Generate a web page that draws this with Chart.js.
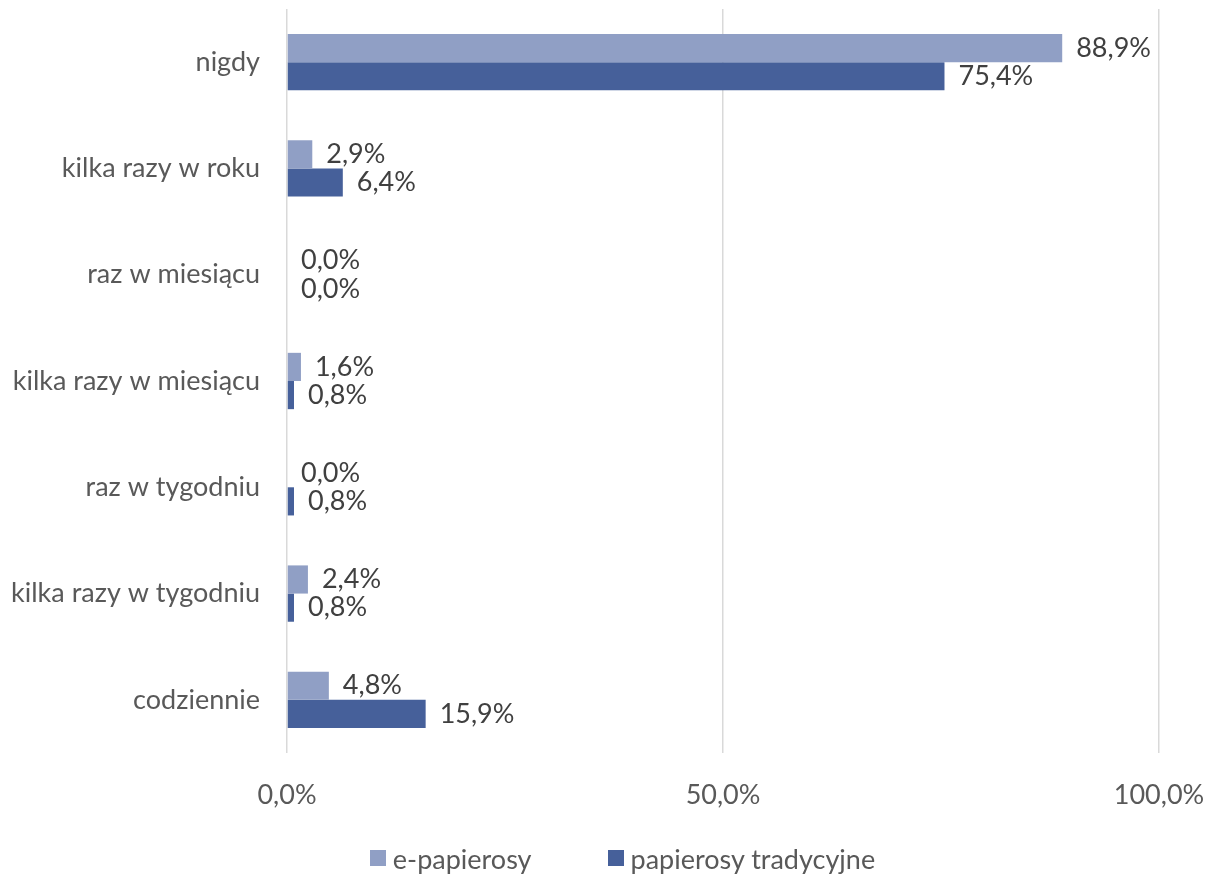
<!DOCTYPE html>
<html lang="pl">
<head>
<meta charset="utf-8">
<style>
  html, body { margin: 0; padding: 0; background: #fff; }
  #wrap { position: relative; width: 1215px; height: 875px; }
  #legend {
    position: absolute; left: 0; top: 840px; width: 1215px; height: 36px; box-sizing: border-box;
    padding-left: 30px;
    display: flex; justify-content: center; align-items: center; gap: 76px;
    font-family: Lato, "Open Sans", sans-serif; font-size: 27px; color: #595959;
  }
  #legend span.item { display: flex; align-items: center; }
  #legend span.box { display: inline-block; width: 16px; height: 16px; margin-right: 7px; }
</style>
</head>
<body>
<div id="wrap">
  <canvas id="myChart" width="1215" height="875"></canvas>
  <div id="legend"></div>
</div>
<script src="https://cdn.jsdelivr.net/npm/chart.js@4.4.0/dist/chart.umd.min.js"></script>
<script>
var categories = ['nigdy', 'kilka razy w roku', 'raz w miesiącu', 'kilka razy w miesiącu',
    'raz w tygodniu', 'kilka razy w tygodniu', 'codziennie'];
var ePapierosy = [88.9, 2.9, 0.0, 1.6, 0.0, 2.4, 4.8];
var tradycyjne = [75.4, 6.4, 0.0, 0.8, 0.8, 0.8, 15.9];
var xTicks = [0, 50, 100];

var FONT = 'Lato, "Open Sans", sans-serif';
var TEXT = '#595959';

function pct(v) {
    return v.toFixed(1).replace('.', ',') + '%';
}

// value labels at the end of each bar
var barLabels = {
    id: 'barLabels',
    afterDatasetsDraw: function (chart) {
        var ctx = chart.ctx;
        ctx.save();
        ctx.font = '27px ' + FONT;
        ctx.fillStyle = '#404040';
        ctx.textAlign = 'left';
        ctx.textBaseline = 'middle';
        chart.data.datasets.forEach(function (ds, i) {
            var meta = chart.getDatasetMeta(i);
            meta.data.forEach(function (bar, j) {
                ctx.fillText(pct(ds.data[j]), bar.x + 14, bar.y);
            });
        });
        ctx.restore();
    }
};

var ctx = document.getElementById('myChart').getContext('2d');
var chart = new Chart(ctx, {
    type: 'bar',
    data: {
        labels: categories,
        datasets: [
            { label: 'e-papierosy', data: ePapierosy, backgroundColor: '#909fc5' },
            { label: 'papierosy tradycyjne', data: tradycyjne, backgroundColor: '#46609a' }
        ]
    },
    options: {
        indexAxis: 'y',
        responsive: false,
        animation: false,
        layout: { padding: { top: 9, right: 56, bottom: 0, left: 0 } },
        datasets: { bar: { categoryPercentage: 0.53, barPercentage: 1 } },
        scales: {
            x: {
                min: 0,
                max: 100,
                afterBuildTicks: function (axis) {
                    axis.ticks = xTicks.map(function (v) { return { value: v }; });
                },
                afterFit: function (axis) {
                    axis.height = 122;
                    axis.paddingLeft = 0;
                    axis.paddingRight = 0;
                },
                ticks: {
                    callback: function (v) { return pct(v); },
                    color: TEXT,
                    font: { family: FONT, size: 27 },
                    padding: 26,
                    maxRotation: 0
                },
                grid: { color: '#d9d9d9', lineWidth: 1.5, drawTicks: false },
                border: { display: false }
            },
            y: {
                afterFit: function (axis) {
                    axis.width = 287;
                    axis.paddingTop = 0;
                    axis.paddingBottom = 0;
                },
                ticks: {
                    color: TEXT,
                    font: { family: FONT, size: 27 },
                    padding: 27
                },
                grid: { display: false, drawTicks: false },
                border: { display: false }
            }
        },
        plugins: {
            legend: { display: false },
            tooltip: { enabled: false }
        }
    },
    plugins: [barLabels]
});

// legend below the chart
var legend = document.getElementById('legend');
chart.data.datasets.forEach(function (ds) {
    var item = document.createElement('span');
    item.className = 'item';
    item.innerHTML = '<span class="box" style="background:' + ds.backgroundColor + '"></span>' + ds.label;
    legend.appendChild(item);
});
</script>
</body>
</html>
